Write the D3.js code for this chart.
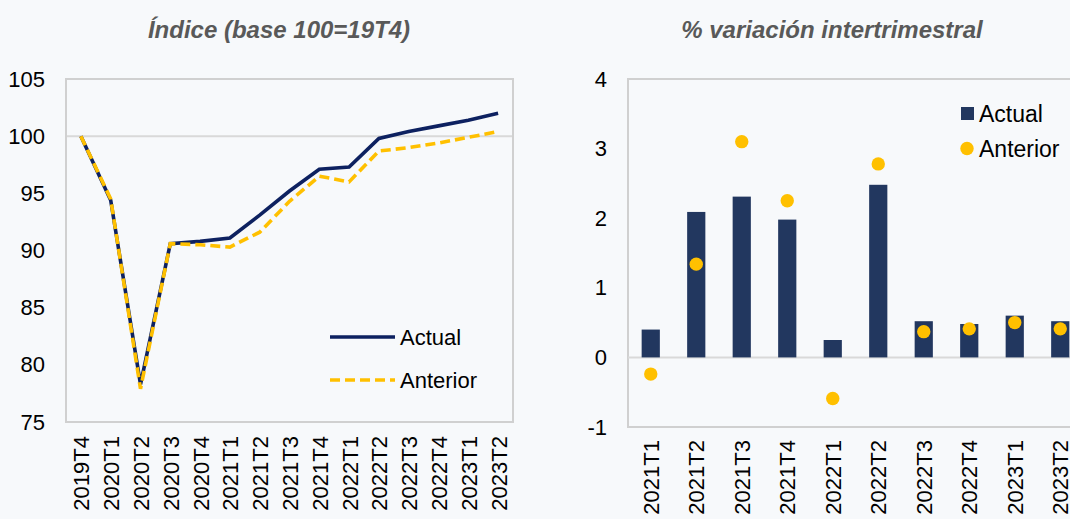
<!DOCTYPE html>
<html>
<head>
<meta charset="utf-8">
<script src="https://cdn.jsdelivr.net/npm/d3@7"></script>
<style>
  body { margin: 0; background: #f7f9fb; }
  svg { display: block; font-family: "Liberation Sans", Arial, sans-serif; }
</style>
</head>
<body>
<div id="chart"></div>
<script>
// left panel: index, base 100 = 19T4
var quarters = ["2019T4","2020T1","2020T2","2020T3","2020T4","2021T1","2021T2","2021T3",
  "2021T4","2022T1","2022T2","2022T3","2022T4","2023T1","2023T2"];
var indexActual = [100, 94.4, 78.3, 90.6, 90.8, 91.1, 93.1, 95.2, 97.1, 97.3, 99.8, 100.4, 100.9, 101.4, 102.0];
var indexAnterior = [100, 94.5, 77.9, 90.6, 90.5, 90.3, 91.6, 94.3, 96.5, 96.0, 98.7, 99.0, 99.4, 99.9, 100.4];
var indexTicks = [75, 80, 85, 90, 95, 100, 105];

// right panel: % quarter on quarter
var qCats = ["2021T1","2021T2","2021T3","2021T4","2022T1","2022T2","2022T3","2022T4","2023T1","2023T2"];
var varActual = [0.40, 2.09, 2.31, 1.98, 0.25, 2.48, 0.52, 0.48, 0.60, 0.52];
var varAnterior = [-0.24, 1.34, 3.10, 2.25, -0.59, 2.78, 0.37, 0.41, 0.50, 0.41];
var varTicks = [-1, 0, 1, 2, 3, 4];

var W = 1070, H = 519;
var navy = "#0d2160", barNavy = "#22375f", yellow = "#ffc000", grey = "#d0d0d0";
var fontFam = "Liberation Sans, Arial, sans-serif";

var svg = d3.select("#chart").append("svg")
  .attr("width", W).attr("height", H);

svg.append("rect").attr("width", W).attr("height", H).attr("fill", "#f7f9fb");

// ---------- left chart ----------
var L = {left: 66, right: 513, top: 79, bottom: 422};

var x1 = d3.scalePoint().domain(quarters).range([L.left, L.right]).padding(0.5);
var y1 = d3.scaleLinear().domain([75, 105]).range([L.bottom, L.top]);

svg.append("text")
  .attr("x", 279).attr("y", 38)
  .attr("text-anchor", "middle")
  .attr("font-size", 24).attr("font-weight", "bold").attr("font-style", "italic")
  .attr("fill", "#595959")
  .text("Índice (base 100=19T4)");

svg.append("line")
  .attr("x1", L.left).attr("x2", L.right)
  .attr("y1", y1(100)).attr("y2", y1(100))
  .attr("stroke", "#d9d9d9").attr("stroke-width", 2);

svg.append("rect")
  .attr("x", L.left).attr("y", L.top)
  .attr("width", L.right - L.left).attr("height", L.bottom - L.top)
  .attr("fill", "none").attr("stroke", grey).attr("stroke-width", 2);

var yAxis1 = svg.append("g")
  .attr("transform", "translate(" + L.left + ",0)")
  .call(d3.axisLeft(y1).tickValues(indexTicks).tickSize(0).tickPadding(21)
    .tickFormat(function(d) { return String(d); }));
yAxis1.select(".domain").remove();
yAxis1.selectAll("text").attr("font-size", 22).attr("fill", "#000")
  .attr("font-family", fontFam);

var xAxis1 = svg.append("g")
  .attr("transform", "translate(0," + L.bottom + ")")
  .call(d3.axisBottom(x1).tickSize(0));
xAxis1.select(".domain").remove();
xAxis1.selectAll("text")
  .attr("font-size", 22).attr("fill", "#000")
  .attr("font-family", fontFam)
  .attr("text-anchor", "end")
  .attr("transform", "rotate(-90)")
  .attr("x", -14).attr("y", 0).attr("dy", "0.36em");

var line1 = d3.line()
  .x(function(d, i) { return x1(quarters[i]); })
  .y(function(d) { return y1(d); });

svg.append("path").datum(indexActual)
  .attr("d", line1).attr("fill", "none")
  .attr("stroke", navy).attr("stroke-width", 3.6);

svg.append("path").datum(indexAnterior)
  .attr("d", line1).attr("fill", "none")
  .attr("stroke", yellow).attr("stroke-width", 3.6)
  .attr("stroke-dasharray", "10,5");

// legend
var leg1 = svg.append("g");
leg1.append("line").attr("x1", 330).attr("x2", 395).attr("y1", 337).attr("y2", 337)
  .attr("stroke", navy).attr("stroke-width", 3.6);
leg1.append("text").attr("x", 400).attr("y", 337).attr("dy", "0.35em")
  .attr("font-size", 22).text("Actual");
leg1.append("line").attr("x1", 330).attr("x2", 395).attr("y1", 380).attr("y2", 380)
  .attr("stroke", yellow).attr("stroke-width", 3.6).attr("stroke-dasharray", "10,5");
leg1.append("text").attr("x", 400).attr("y", 380).attr("dy", "0.35em")
  .attr("font-size", 22).text("Anterior");

// ---------- right chart ----------
var R = {left: 628, right: 1083, top: 79, bottom: 427};

var x2 = d3.scaleBand().domain(qCats).range([R.left, R.right])
  .paddingInner(0.6).paddingOuter(0.3);
var y2 = d3.scaleLinear().domain([-1, 4]).range([R.bottom, R.top]);

svg.append("text")
  .attr("x", 832).attr("y", 38)
  .attr("text-anchor", "middle")
  .attr("font-size", 24).attr("font-weight", "bold").attr("font-style", "italic")
  .attr("fill", "#595959")
  .text("% variación intertrimestral");

svg.append("rect")
  .attr("x", R.left).attr("y", R.top)
  .attr("width", R.right - R.left).attr("height", R.bottom - R.top)
  .attr("fill", "none").attr("stroke", grey).attr("stroke-width", 2);

svg.append("line")
  .attr("x1", R.left).attr("x2", R.right)
  .attr("y1", y2(0)).attr("y2", y2(0))
  .attr("stroke", "#d9d9d9").attr("stroke-width", 2);

var yAxis2 = svg.append("g")
  .attr("transform", "translate(" + R.left + ",0)")
  .call(d3.axisLeft(y2).tickValues(varTicks).tickSize(0).tickPadding(21)
    .tickFormat(function(d) { return String(d); }));
yAxis2.select(".domain").remove();
yAxis2.selectAll("text").attr("font-size", 22).attr("fill", "#000")
  .attr("font-family", fontFam);

var xAxis2 = svg.append("g")
  .attr("transform", "translate(0," + R.bottom + ")")
  .call(d3.axisBottom(x2).tickSize(0));
xAxis2.select(".domain").remove();
xAxis2.selectAll("text")
  .attr("font-size", 22).attr("fill", "#000")
  .attr("font-family", fontFam)
  .attr("text-anchor", "end")
  .attr("transform", "rotate(-90)")
  .attr("x", -13).attr("y", 0).attr("dy", "0.36em");

svg.append("g").selectAll("rect")
  .data(varActual)
  .join("rect")
  .attr("x", function(d, i) { return x2(qCats[i]); })
  .attr("width", x2.bandwidth())
  .attr("y", function(d) { return y2(Math.max(0, d)); })
  .attr("height", function(d) { return Math.abs(y2(d) - y2(0)); })
  .attr("fill", barNavy);

svg.append("g").selectAll("circle")
  .data(varAnterior)
  .join("circle")
  .attr("cx", function(d, i) { return x2(qCats[i]) + x2.bandwidth() / 2; })
  .attr("cy", function(d) { return y2(d); })
  .attr("r", 6.7)
  .attr("fill", yellow);

// legend
var leg2 = svg.append("g");
leg2.append("rect").attr("x", 961).attr("y", 107).attr("width", 13).attr("height", 13)
  .attr("fill", barNavy);
leg2.append("text").attr("x", 979).attr("y", 113.5).attr("dy", "0.35em")
  .attr("font-size", 23).text("Actual");
leg2.append("circle").attr("cx", 967).attr("cy", 148.5).attr("r", 6.7)
  .attr("fill", yellow);
leg2.append("text").attr("x", 979).attr("y", 148.5).attr("dy", "0.35em")
  .attr("font-size", 23).text("Anterior");
</script>
</body>
</html>
